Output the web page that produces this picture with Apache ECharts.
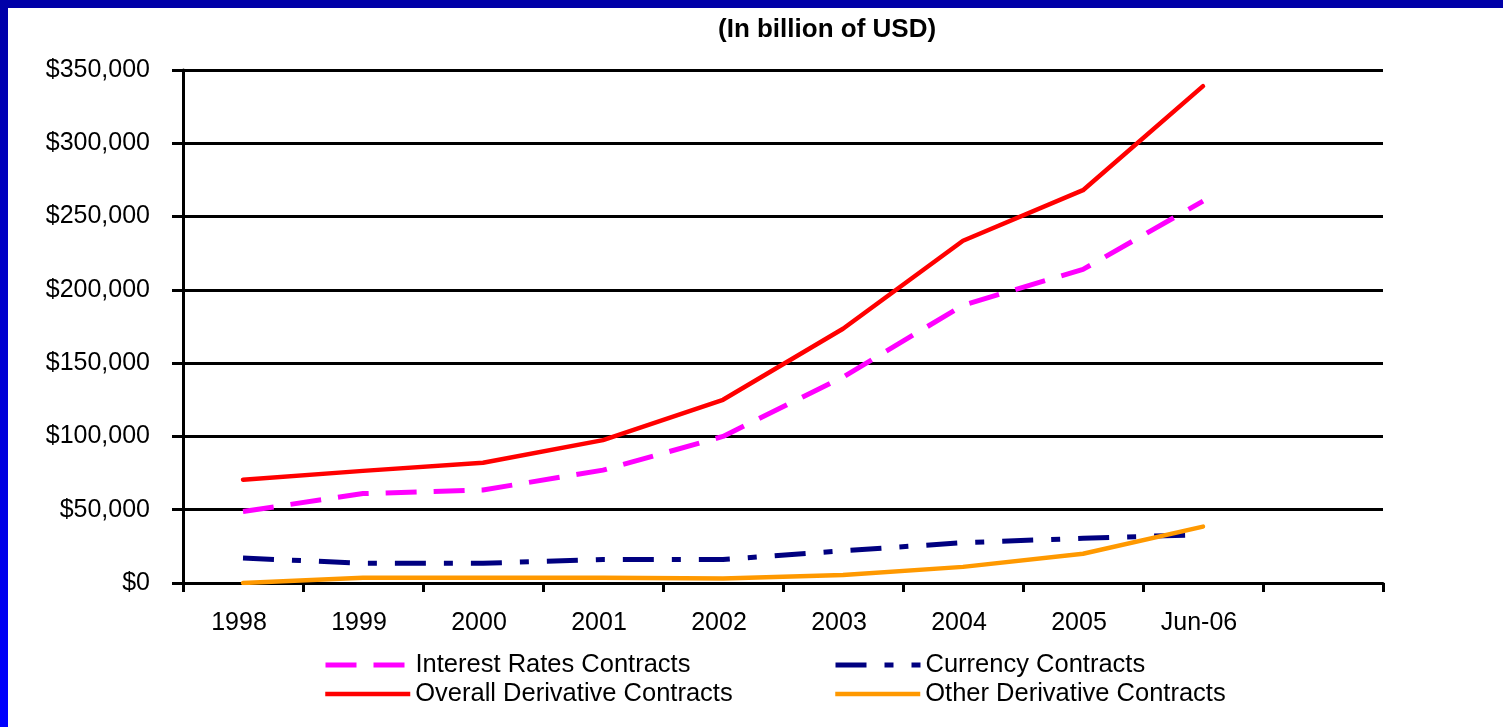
<!DOCTYPE html>
<html>
<head>
<meta charset="utf-8">
<title>Derivative Contracts</title>
<script src="https://cdn.jsdelivr.net/npm/echarts@6/dist/echarts.min.js"></script>
<style>
  html, body { margin: 0; padding: 0; background: #ffffff; }
  #chart { width: 1503px; height: 727px; }
</style>
</head>
<body>
<div id="chart"></div>
<script>
// Notional amounts outstanding, in billion of USD
const categories = ['1998', '1999', '2000', '2001', '2002', '2003', '2004', '2005', 'Jun-06', ''];
const interestRates = [48800, 61000, 63500, 77000, 100000, 140500, 189500, 214000, 260500];
const currency      = [17000, 13500, 13500, 16000, 16000, 22000, 27500, 30500, 33000];
const overall       = [70500, 76500, 82000, 97500, 125000, 173500, 233500, 268000, 339000];
const other         = [0, 3500, 3500, 3500, 3000, 5500, 11000, 20000, 38500];

const FONT = 'Arial, "Liberation Sans", Helvetica, sans-serif';

function dollars(v) {
  return '$' + String(v).replace(/\B(?=(\d{3})+(?!\d))/g, ',');
}

const chart = echarts.init(document.getElementById('chart'), null, { renderer: 'canvas' });

// Legend entries show only the series line (no marker), at full stroke width
const legendBase = {
  orient: 'horizontal',
  padding: 0,
  itemWidth: 85,
  itemHeight: 14,
  itemGap: 0,
  itemStyle: { opacity: 0 },
  lineStyle: { width: 'inherit', type: 'inherit', cap: 'butt' },
  textStyle: { fontFamily: FONT, fontSize: 25.5, color: '#000000' },
  selectedMode: false
};

chart.setOption({
  backgroundColor: '#ffffff',
  animation: false,
  title: {
    text: '(In billion of USD)',
    left: 718,
    top: 17,
    padding: 0,
    textStyle: { fontFamily: FONT, fontSize: 26, fontWeight: 'bold', color: '#000000' }
  },
  graphic: [
    {
      type: 'rect', left: 0, top: 0, z: 100,
      shape: { width: 1503, height: 8 },
      style: { fill: '#0000A8' }
    },
    {
      type: 'rect', left: 0, top: 0, z: 100,
      shape: { width: 8, height: 727 },
      style: {
        fill: new echarts.graphic.LinearGradient(0, 0, 0, 1, [
          { offset: 0, color: '#0000A8' },
          { offset: 1, color: '#0000FF' }
        ])
      }
    }
  ],
  legend: [
    Object.assign({}, legendBase, { left: 323, top: 652, data: ['Interest Rates Contracts'] }),
    Object.assign({}, legendBase, { left: 323, top: 681, data: ['Overall Derivative Contracts'] }),
    Object.assign({}, legendBase, { left: 833, top: 652, data: ['Currency Contracts'] }),
    Object.assign({}, legendBase, { left: 833, top: 681, data: ['Other Derivative Contracts'] })
  ],
  grid: { left: 183, right: 120, top: 70, bottom: 144, containLabel: false },
  xAxis: {
    type: 'category',
    data: categories,
    boundaryGap: true,
    axisLine: { show: true, lineStyle: { color: '#000000', width: 3 } },
    axisTick: { show: true, interval: 0, length: 9, lineStyle: { color: '#000000', width: 3 } },
    axisLabel: {
      interval: 0, margin: 28, padding: [0, 8, 0, 0],
      fontFamily: FONT, fontSize: 25, color: '#000000'
    },
    splitLine: { show: false }
  },
  yAxis: {
    type: 'value',
    min: 0,
    max: 350000,
    interval: 50000,
    axisLine: { show: true, lineStyle: { color: '#000000', width: 3 } },
    axisTick: { show: true, length: 11, lineStyle: { color: '#000000', width: 3 } },
    axisLabel: { margin: 33, fontFamily: FONT, fontSize: 25, color: '#000000', formatter: dollars },
    splitLine: { show: true, lineStyle: { color: '#000000', width: 3.2 } }
  },
  series: [
    {
      name: 'Interest Rates Contracts',
      type: 'line',
      data: interestRates,
      symbol: 'none',
      lineStyle: { color: '#FF00FF', width: 5, type: [31, 17] },
      itemStyle: { color: '#FF00FF' },
      z: 3
    },
    {
      name: 'Currency Contracts',
      type: 'line',
      data: currency,
      symbol: 'none',
      lineStyle: { color: '#000080', width: 5, type: [31, 18, 9, 18] },
      itemStyle: { color: '#000080' },
      z: 3
    },
    {
      name: 'Overall Derivative Contracts',
      type: 'line',
      data: overall,
      symbol: 'none',
      lineStyle: { color: '#FF0000', width: 4.5, cap: 'round', join: 'round' },
      itemStyle: { color: '#FF0000' },
      z: 4
    },
    {
      name: 'Other Derivative Contracts',
      type: 'line',
      data: other,
      symbol: 'none',
      lineStyle: { color: '#FF9900', width: 4.5, cap: 'round', join: 'round' },
      itemStyle: { color: '#FF9900' },
      z: 4
    }
  ]
});
</script>
</body>
</html>
